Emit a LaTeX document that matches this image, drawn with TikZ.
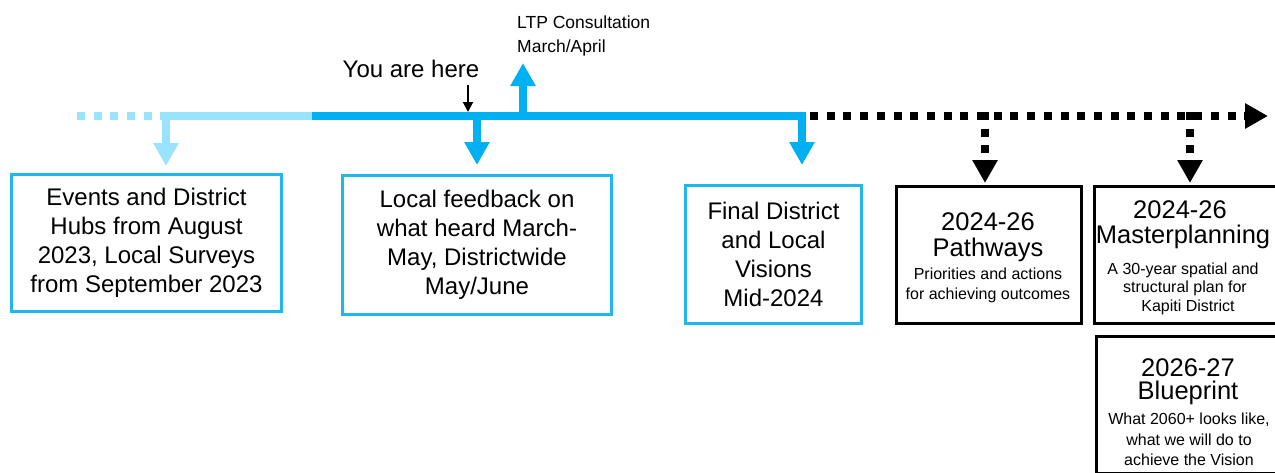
\documentclass[tikz,border=0pt]{standalone}
\usepackage{fontspec}
\setmainfont{Liberation Sans}
\usetikzlibrary{arrows.meta}
\definecolor{dblue}{HTML}{00B0F0}
\definecolor{lblue}{HTML}{99E3FD}
\definecolor{bborder}{HTML}{20B6EE}
\begin{document}
\begin{tikzpicture}[x=1pt,y=-1pt,
  bigtext/.style={font=\fontsize{24}{29}\selectfont},
  midtext/.style={font=\fontsize{25.5}{28}\selectfont, inner sep=0pt, anchor=base},
  smalltext/.style={font=\fontsize{16}{20}\selectfont, inner sep=0pt, anchor=base},
  bluebox/.style={draw=bborder, line width=3pt, inner sep=0pt, align=center, bigtext},
  blackbox/.style={draw=black, line width=3pt, inner sep=0pt, minimum width=185pt, minimum height=137pt},
  tline/.style={line width=8pt},
  bigarrow/.style={line width=8pt, -{Triangle[width=24pt,length=23pt]}},
  dots/.style={line width=8pt, dash pattern=on 8pt off 8.7pt}
]
\useasboundingbox (0,0) rectangle (1275,472);
\clip (0,0) rectangle (1275,472);

% boxes
\node[bluebox, minimum width=270pt, minimum height=137pt] (b1) at (146.5,243)
  {Events and District\\Hubs from August\\2023, Local Surveys\\from September 2023};
\node[bluebox, minimum width=269pt, minimum height=139pt] (b2) at (477,245)
  {Local feedback on\\what heard March-\\May, Districtwide\\May/June};
\node[bluebox, minimum width=176pt, minimum height=138pt] (b3) at (773.5,254.5)
  {Final District\\and Local\\Visions\\Mid-2024};
\node[blackbox] (b4) at (989,255) {};
\node[blackbox] (b5) at (1187,255) {};
\node[blackbox] (b6) at (1189,405) {};

% box texts
\node[midtext] (p1) at (988,230) {2024-26};
\node[midtext] (p2) at (988,256) {Pathways};
\node[smalltext] (p3) at (988,279) {Priorities and actions};
\node[smalltext] (p4) at (988,299) {for achieving outcomes};

\node[midtext] (m1) at (1180,218) {2024-26};
\node[midtext] (m2) at (1183,243) {Masterplanning};
\node[smalltext] (m3) at (1183,274) {A 30-year spatial and};
\node[smalltext] (m4) at (1185,292) {structural plan for};
\node[smalltext] (m5) at (1188,311) {Kapiti District};

\node[midtext] (q1) at (1188,376) {2026-27};
\node[midtext] (q2) at (1188,399) {Blueprint};
\node[smalltext] (q3) at (1189,424) {What 2060+ looks like,};
\node[smalltext] (q4) at (1189,445) {what we will do to};
\node[smalltext] (q5) at (1189,465) {achieve the Vision};

% timeline
\coordinate (L0) at (77,116);
\coordinate (L1) at (160,116);
\coordinate (L2) at (312,116);
\coordinate (L3) at (806,116);
\coordinate (L4) at (810,116);
\coordinate (L5) at (1268,116);

\draw[dots, lblue] (L0) -- (L1);
\draw[tline, lblue] (L1) -- (L2);
\draw[tline, dblue] (L2) -- (L3);
\draw[dots, black, -{Triangle[width=24pt,length=23pt]}] (L4) -- (L5);

% down arrows
\coordinate (d1) at (166,112);
\coordinate (d2) at (477,112);
\coordinate (d3) at (802,112);
\coordinate (d4) at (985,112);
\coordinate (d5) at (1190,112);
\draw[bigarrow, lblue, shorten >=7pt] (d1) -- (d1 |- b1.north);
\draw[bigarrow, dblue, shorten >=9pt] (d2) -- (d2 |- b2.north);
\draw[bigarrow, dblue, shorten >=19pt] (d3) -- (d3 |- b3.north);
\draw[dots, black, -{Triangle[width=24pt,length=23pt]}, shorten >=2pt] (d4) -- (d4 |- b4.north);
\draw[dots, black, -{Triangle[width=24pt,length=23pt]}, shorten >=2pt] (d5) -- (d5 |- b5.north);

% LTP
\node[font=\fontsize{17.5}{24}\selectfont, align=left, anchor=base west, inner sep=0pt] (ltp) at (517,52)
  {LTP Consultation\\March/April};
\coordinate (u0) at (523,112);
\coordinate (u1) at (523,63);
\draw[bigarrow, dblue] (u0) -- (u1);

% You are here
\node[font=\fontsize{24}{29}\selectfont, anchor=base, inner sep=0pt] (yah) at (411,77) {You are here};
\coordinate (y0) at (468,85);
\coordinate (y1) at (468,112);
\draw[line width=2pt, -{Triangle[width=10pt,length=10pt]}] (y0) -- (y1);
\end{tikzpicture}
\end{document}
